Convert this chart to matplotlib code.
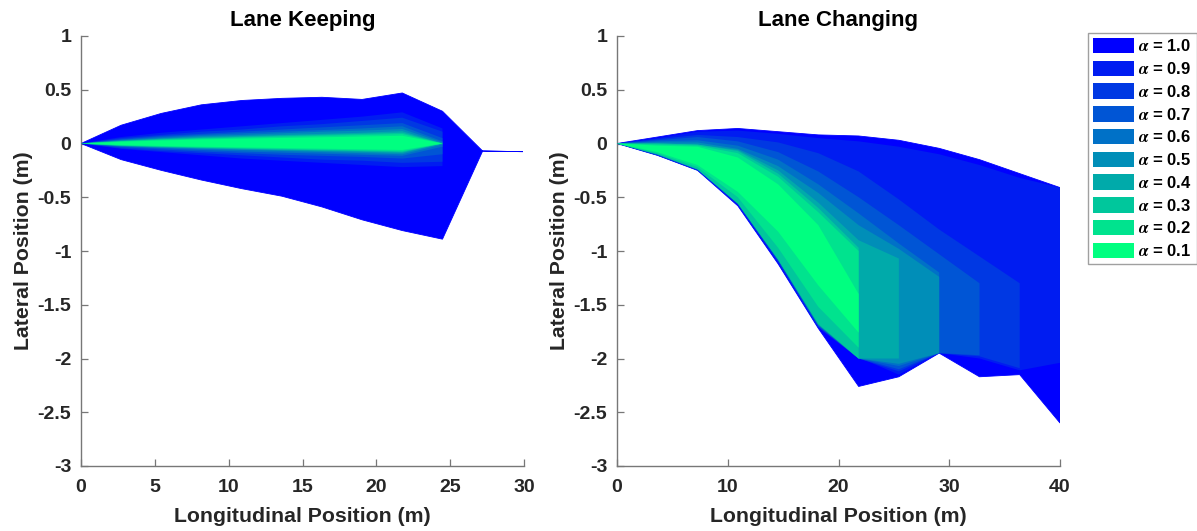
import matplotlib
matplotlib.use("Agg")
import matplotlib.pyplot as plt
from matplotlib.patches import Patch

plt.rcParams['font.family'] = ['Liberation Sans', 'DejaVu Sans']
plt.rcParams['font.weight'] = 'bold'
plt.rcParams['axes.unicode_minus'] = False
plt.rcParams['mathtext.fontset'] = 'stix'

# confidence levels, outermost set first
alphas = [1.0, 0.9, 0.8, 0.7, 0.6, 0.5, 0.4, 0.3, 0.2, 0.1]

# ---- Lane keeping: longitudinal samples and lateral bounds per level ----
lk_x = [0, 2.72, 5.44, 8.16, 10.88, 13.6, 16.32, 19.04, 21.76, 24.48, 27.2, 29.92]
lk_upper = [
    [0, 0.17, 0.28, 0.36, 0.40, 0.42, 0.43, 0.41, 0.47, 0.30, -0.07, -0.076],
    [0, 0.06, 0.10, 0.13, 0.16, 0.19, 0.22, 0.25, 0.29, 0.14],
    [0, 0.05, 0.08, 0.11, 0.13, 0.16, 0.18, 0.21, 0.24, 0.11],
    [0, 0.04, 0.07, 0.09, 0.11, 0.13, 0.15, 0.17, 0.19, 0.05],
    [0, 0.035, 0.06, 0.08, 0.095, 0.11, 0.125, 0.14, 0.16, 0.02],
    [0, 0.03, 0.05, 0.07, 0.08, 0.095, 0.11, 0.12, 0.135, 0.01],
    [0, 0.025, 0.045, 0.06, 0.07, 0.08, 0.09, 0.10, 0.115, 0.0],
    [0, 0.022, 0.04, 0.052, 0.062, 0.072, 0.08, 0.09, 0.10, 0.0],
    [0, 0.02, 0.035, 0.046, 0.055, 0.063, 0.071, 0.079, 0.088, 0.0],
    [0, 0.016, 0.028, 0.038, 0.045, 0.052, 0.058, 0.065, 0.072, 0.0],
]
lk_lower = [
    [0, -0.15, -0.25, -0.34, -0.42, -0.49, -0.59, -0.71, -0.81, -0.89, -0.07, -0.076],
    [0, -0.05, -0.08, -0.11, -0.14, -0.16, -0.18, -0.20, -0.22, -0.21],
    [0, -0.045, -0.07, -0.09, -0.11, -0.13, -0.15, -0.16, -0.18, -0.17],
    [0, -0.035, -0.055, -0.075, -0.09, -0.105, -0.115, -0.125, -0.14, -0.10],
    [0, -0.03, -0.045, -0.06, -0.075, -0.085, -0.095, -0.105, -0.115, -0.03],
    [0, -0.025, -0.04, -0.05, -0.06, -0.07, -0.08, -0.09, -0.10, -0.01],
    [0, -0.022, -0.035, -0.045, -0.054, -0.062, -0.07, -0.078, -0.088, 0.0],
    [0, -0.02, -0.031, -0.04, -0.048, -0.056, -0.063, -0.071, -0.08, 0.0],
    [0, -0.018, -0.028, -0.036, -0.043, -0.05, -0.057, -0.064, -0.072, 0.0],
    [0, -0.014, -0.023, -0.03, -0.036, -0.042, -0.048, -0.054, -0.06, 0.0],
]

# ---- Lane changing ----
lc_x = [0, 3.64, 7.27, 10.91, 14.55, 18.18, 21.82, 25.45, 29.09, 32.73, 36.36, 40.0]
lc_upper = [
    [0, 0.06, 0.12, 0.14, 0.11, 0.08, 0.07, 0.03, -0.045, -0.15, -0.28, -0.41],
    [0, 0.05, 0.11, 0.12, 0.09, 0.05, 0.02, -0.03, -0.10, -0.20, -0.32, -0.41],
    [0, 0.04, 0.08, 0.06, 0.01, -0.09, -0.26, -0.52, -0.80, -1.05, -1.30],
    [0, 0.03, 0.06, 0.02, -0.08, -0.26, -0.50, -0.76, -1.03, -1.30],
    [0, 0.02, 0.03, -0.02, -0.15, -0.38, -0.65, -0.93, -1.20],
    [0, 0.01, 0.01, -0.05, -0.21, -0.46, -0.76, -0.98, -1.24],
    [0, 0.0, -0.01, -0.06, -0.25, -0.55, -0.90, -1.07],
    [0, 0.0, -0.01, -0.07, -0.28, -0.60, -0.97],
    [0, -0.01, -0.02, -0.09, -0.31, -0.64, -1.00],
    [0, -0.02, -0.03, -0.13, -0.38, -0.76, -1.40],
]
lc_lower = [
    [0, -0.11, -0.25, -0.58, -1.12, -1.72, -2.26, -2.17, -1.95, -2.17, -2.15, -2.60],
    [0, -0.11, -0.25, -0.57, -1.11, -1.71, -1.99, -2.15, -1.95, -2.00, -2.11, -2.04],
    [0, -0.11, -0.25, -0.57, -1.10, -1.71, -2.00, -2.12, -1.95, -1.98, -2.09],
    [0, -0.11, -0.24, -0.56, -1.09, -1.70, -2.00, -2.10, -1.95, -1.97],
    [0, -0.10, -0.24, -0.55, -1.08, -1.69, -2.00, -2.07, -1.95],
    [0, -0.10, -0.24, -0.55, -1.08, -1.69, -2.00, -2.05, -1.95],
    [0, -0.10, -0.24, -0.55, -1.08, -1.68, -2.00, -2.00],
    [0, -0.10, -0.24, -0.56, -1.08, -1.68, -2.00],
    [0, -0.09, -0.22, -0.50, -0.97, -1.52, -1.90],
    [0, -0.08, -0.20, -0.45, -0.82, -1.32, -1.76],
]

lk_xticks = [0, 5, 10, 15, 20, 25, 30]
lc_xticks = [0, 10, 20, 30, 40]
yticks = [-3, -2.5, -2, -1.5, -1, -0.5, 0, 0.5, 1]
ytick_labels = ['-3', '-2.5', '-2', '-1.5', '-1', '-0.5', '0', '0.5', '1']

cmap = matplotlib.colormaps['winter']


def level_color(a):
    return cmap((1.0 - a) / 0.9)


fig = plt.figure(figsize=(11.97, 5.31), dpi=100)
ax1 = fig.add_axes([81 / 1197, 65 / 531, 443 / 1197, 430 / 531])
ax2 = fig.add_axes([617 / 1197, 65 / 531, 443 / 1197, 430 / 531])

axis_gray = '#777777'
text_col = '#262626'


def draw_sets(ax, xs, uppers, lowers):
    for i, a in enumerate(alphas):
        up, lo = uppers[i], lowers[i]
        n = len(up)
        px = list(xs[:n]) + list(xs[:n])[::-1]
        py = list(up) + list(lo)[::-1]
        col = level_color(a)
        if i == 0:
            ax.fill(px, py, facecolor=col, edgecolor=col, linewidth=0.6, zorder=2)
        else:
            ax.fill(px, py, facecolor=col, edgecolor='none', zorder=2 + i)


def style(ax, xmax, xticks, title):
    ax.set_xlim(0, xmax)
    ax.set_ylim(-3, 1)
    ax.set_xticks(xticks)
    ax.set_xticklabels([str(t) for t in xticks])
    ax.set_yticks(yticks)
    ax.set_yticklabels(ytick_labels)
    for s in ['top', 'right']:
        ax.spines[s].set_visible(False)
    for s in ['left', 'bottom']:
        ax.spines[s].set_color(axis_gray)
        ax.spines[s].set_linewidth(1.0)
    ax.tick_params(direction='in', length=5, width=0.9, color=axis_gray,
                   labelsize=14, labelcolor=text_col)
    ax.tick_params(axis='x', pad=9)
    ax.tick_params(axis='y', pad=7)
    for lab in ax.get_xticklabels() + ax.get_yticklabels():
        lab.set_fontweight('bold')
    ax.set_title(title, fontsize=16, fontweight='bold', color='black', pad=7)
    ax.set_xlabel('Longitudinal Position (m)', fontsize=15.3, fontweight='bold',
                  color=text_col, labelpad=8)
    ax.set_ylabel('Lateral Position (m)', fontsize=15.3, fontweight='bold',
                  color=text_col, labelpad=3)


draw_sets(ax1, lk_x, lk_upper, lk_lower)
draw_sets(ax2, lc_x, lc_upper, lc_lower)
style(ax1, 30, lk_xticks, 'Lane Keeping')
style(ax2, 40, lc_xticks, 'Lane Changing')

handles = [Patch(facecolor=level_color(a), edgecolor='none') for a in alphas]
labels = [r'$\alpha$ = %.1f' % a for a in alphas]
leg = fig.legend(handles, labels, loc='upper left',
                 bbox_to_anchor=(1088 / 1197, 1 - 33 / 531),
                 prop={'family': 'Liberation Sans', 'weight': 'bold', 'size': 12},
                 frameon=True, fancybox=False, borderpad=0.3,
                 handlelength=2.45, handleheight=1.05, handletextpad=0.25,
                 labelspacing=0.38, borderaxespad=0)
leg.get_frame().set_edgecolor('#888888')
leg.get_frame().set_linewidth(1.0)

fig.savefig('out.png', dpi=100)
